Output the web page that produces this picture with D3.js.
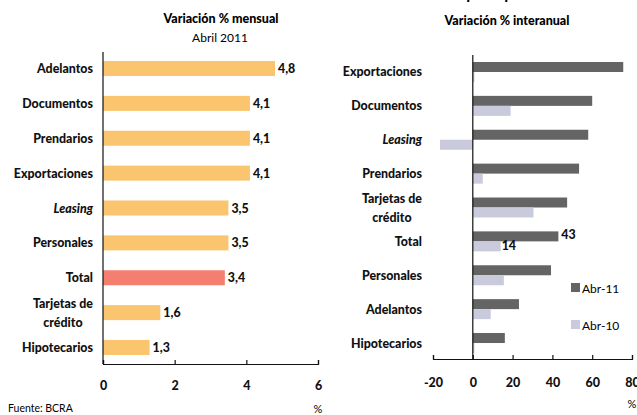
<!DOCTYPE html>
<html>
<head>
<meta charset="utf-8">
<script src="https://cdn.jsdelivr.net/npm/d3@7"></script>
<style>
  body { margin: 0; background: #fff; }
  svg { display: block; font-family: Lato, "Open Sans", sans-serif; }
  .lbl { font-weight: 900; font-size: 12.4px; fill: #111; }
  .axis text { font-weight: 900; font-size: 12.5px; fill: #111; font-family: Lato, sans-serif; }
  .axis path, .axis line { stroke: #111; stroke-width: 1.2; }
</style>
</head>
<body>
<div id="myGraph"></div>
<script>
// left panel: monthly change, April 2011
var leftCats = ["Adelantos", "Documentos", "Prendarios", "Exportaciones", "Leasing", "Personales", "Total", "Tarjetas de crédito", "Hipotecarios"]
var leftVals = [4.8, 4.1, 4.1, 4.1, 3.5, 3.5, 3.4, 1.6, 1.3]
var leftLabels = ["4,8", "4,1", "4,1", "4,1", "3,5", "3,5", "3,4", "1,6", "1,3"]
var leftTicks = [0, 2, 4, 6]

// right panel: year-on-year change
var rightCats = ["Exportaciones", "Documentos", "Leasing", "Prendarios", "Tarjetas de crédito", "Total", "Personales", "Adelantos", "Hipotecarios"]
var series = ["Abr-11", "Abr-10"]
var abr11 = [75.6, 60, 58, 53.4, 47.4, 43, 39.3, 23.2, 16.1]
var abr10 = [0.8, 19, -16.5, 5, 30.5, 14, 15.6, 9, 0.8]
var rightTicks = [-20, 0, 20, 40, 60, 80]

var width = 637
var height = 415

var svg = d3.select("#myGraph")
  .append("svg")
    .attr("width", width)
    .attr("height", height)

// main title, cut off at the top edge like in the source
svg.append("text")
  .attr("x", 455).attr("y", -1.5)
  .attr("text-anchor", "middle")
  .style("font-weight", "bold").style("font-size", "16px")
  .text("Préstamos por tipo")

// category label helper (handles two-line and italic labels)
var catLabel = function(g, name, xRight, yc) {
  if (name == "Tarjetas de crédito") {
    var t1 = g.append("text").attr("class", "lbl").attr("x", xRight).attr("y", yc - 5)
      .attr("text-anchor", "end").text("Tarjetas de")
    var w = t1.node().getComputedTextLength()
    t1.attr("text-anchor", "middle").attr("x", xRight - w / 2)
    g.append("text").attr("class", "lbl").attr("x", xRight - w / 2).attr("y", yc + 14)
      .attr("text-anchor", "middle").text("crédito")
  } else {
    g.append("text").attr("class", "lbl").attr("x", xRight).attr("y", yc + 4.5)
      .attr("text-anchor", "end")
      .style("font-style", name == "Leasing" ? "italic" : null)
      .text(name)
  }
}

// ---------- left chart ----------
var xL = d3.scaleLinear().domain([0, 6]).range([103, 318])
var yL = d3.scaleBand().domain(leftCats).range([52, 364]).paddingInner(0.57).paddingOuter(0.258)

var gL = svg.append("g")

gL.append("text").attr("x", 221).attr("y", 23).attr("text-anchor", "middle")
  .style("font-weight", "900").style("font-size", "12.5px").text("Variación %  mensual")
gL.append("text").attr("x", 220).attr("y", 42).attr("text-anchor", "middle")
  .style("font-size", "12px").text("Abril 2011")

gL.selectAll("rect")
  .data(leftCats)
  .enter().append("rect")
    .attr("x", xL(0))
    .attr("y", function(d) { return yL(d) })
    .attr("height", yL.bandwidth())
    .attr("width", function(d, i) { return xL(leftVals[i]) - xL(0) })
    .style("fill", function(d) { return d == "Total" ? "#F47E70" : "#FBC46E" })

gL.selectAll(".val")
  .data(leftCats)
  .enter().append("text")
    .attr("class", "lbl")
    .attr("x", function(d, i) { return xL(leftVals[i]) + 3 })
    .attr("y", function(d) { return yL(d) + yL.bandwidth() / 2 + 4.5 })
    .text(function(d, i) { return leftLabels[i] })

leftCats.forEach(function(c) { catLabel(gL, c, 93, yL(c) + yL.bandwidth() / 2) })

gL.append("g")
  .attr("class", "axis")
  .attr("transform", "translate(0,364)")
  .call(d3.axisBottom(xL).tickValues(leftTicks).tickFormat(function(d) { return String(d) })
    .tickSizeInner(-4).tickSizeOuter(-4).tickPadding(17.5))
gL.append("line").attr("x1", xL(0)).attr("x2", xL(0)).attr("y1", 52).attr("y2", 364)
  .style("stroke", "#111").style("stroke-width", 1.2)

gL.append("text").attr("x", 8).attr("y", 412).style("font-size", "10.5px").text("Fuente: BCRA")
gL.append("text").attr("x", 318).attr("y", 413).attr("text-anchor", "middle").style("font-size", "11px").text("%")

// ---------- right chart ----------
var xR = d3.scaleLinear().domain([-20, 80]).range([433, 632])
var yR = d3.scaleBand().domain(rightCats).range([56, 359]).paddingInner(0.41).paddingOuter(0.177)
var ySub = d3.scaleBand().domain(series).range([0, yR.bandwidth()])
var colors = {"Abr-11": "#646464", "Abr-10": "#C9CADB"}
var vals = {"Abr-11": abr11, "Abr-10": abr10}

var gR = svg.append("g")

gR.append("text").attr("x", 507).attr("y", 25).attr("text-anchor", "middle")
  .style("font-weight", "900").style("font-size", "12.5px").text("Variación % interanual")

series.forEach(function(s) {
  gR.selectAll(".b" + s)
    .data(rightCats)
    .enter().append("rect")
      .attr("x", function(d, i) { return xR(Math.min(0, vals[s][i])) })
      .attr("y", function(d) { return yR(d) + ySub(s) })
      .attr("height", ySub.bandwidth())
      .attr("width", function(d, i) { return Math.abs(xR(vals[s][i]) - xR(0)) })
      .style("fill", colors[s])
})

// value labels for Total
var ti = rightCats.indexOf("Total")
gR.append("text").attr("class", "lbl").attr("x", xR(abr11[ti]) + 3).attr("y", yR("Total") + 8)
  .text("43")
gR.append("text").attr("class", "lbl").attr("x", xR(abr10[ti]) + 1).attr("y", yR("Total") + 19)
  .text("14")

rightCats.forEach(function(c) { catLabel(gR, c, 422, yR(c) + yR.bandwidth() / 2) })

gR.append("g")
  .attr("class", "axis")
  .attr("transform", "translate(0,359)")
  .call(d3.axisBottom(xR).tickValues(rightTicks).tickFormat(function(d) { return String(d) })
    .tickSizeInner(-4).tickSizeOuter(-4).tickPadding(19))
gR.append("line").attr("x1", xR(0)).attr("x2", xR(0)).attr("y1", 55).attr("y2", 359)
  .style("stroke", "#111").style("stroke-width", 1.2)

gR.append("text").attr("x", 632).attr("y", 408).attr("text-anchor", "middle").style("font-size", "11px").text("%")

// legend
var legend = gR.selectAll(".legend")
  .data(series)
  .enter().append("g")
    .attr("transform", function(d, i) { return "translate(571," + (288 + i * 37) + ")" })
legend.append("rect").attr("x", 0).attr("y", -5).attr("width", 9).attr("height", 9)
  .style("fill", function(d) { return colors[d] })
legend.append("text").attr("x", 11).attr("y", 4.5).style("font-size", "12px")
  .text(function(d) { return d })
</script>
</body>
</html>
